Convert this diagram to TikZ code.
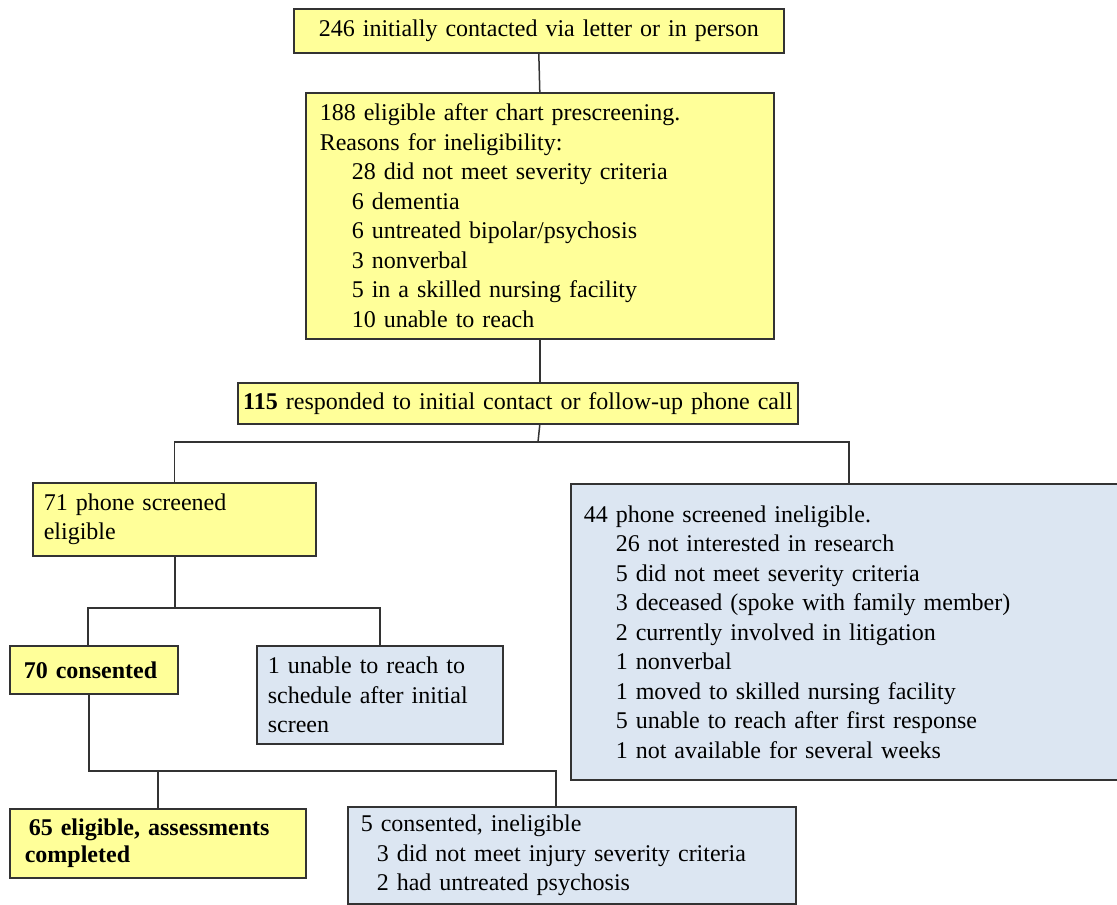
\documentclass[tikz,border=0pt]{standalone}
\usepackage{fontspec}
\setmainfont{Liberation Serif}
\definecolor{yel}{HTML}{FFFF99}
\definecolor{blu}{HTML}{DCE6F2}
\definecolor{edge}{HTML}{333333}
\tikzset{
  box/.style={draw=edge, line width=1.6pt, anchor=north west, inner ysep=0pt,
    font=\fontsize{24}{29.5}\selectfont, align=left},
  ybox/.style={box, fill=yel},
  bbox/.style={box, fill=blu},
  conn/.style={draw=edge, line width=1.5pt}
}
\newcommand{\ind}{\hspace*{32pt}}
\begin{document}
\begin{tikzpicture}[x=1pt,y=-1pt]
\useasboundingbox (0,0) rectangle (1117,905);
\node[ybox, minimum width=490pt, minimum height=44pt, inner xsep=4pt, text width=482pt, align=center] (n246) at (293,8) {246 initially contacted via letter or in person};
\node[ybox, minimum width=468pt, minimum height=246pt, inner xsep=14pt, text width=440pt] (n188) at (305,92) {188 eligible after chart prescreening.\\Reasons for ineligibility:\\\ind 28 did not meet severity criteria\\\ind 6 dementia\\\ind 6 untreated bipolar/psychosis\\\ind 3 nonverbal\\\ind 5 in a skilled nursing facility\\\ind 10 unable to reach};
\node[ybox, minimum width=560pt, minimum height=41pt, inner xsep=3pt, text width=554pt, align=center] (n115) at (237,382) {\textbf{115} responded to initial contact or follow-up phone call};
\node[ybox, minimum width=283pt, minimum height=73pt, inner xsep=11pt, text width=261pt] (n71) at (32,482) {71 phone screened\\eligible};
\node[bbox, minimum width=556pt, minimum height=296pt, inner xsep=13pt, text width=530pt] (n44) at (570,483) {44 phone screened ineligible.\\\ind 26 not interested in research\\\ind 5 did not meet severity criteria\\\ind 3 deceased (spoke with family member)\\\ind 2 currently involved in litigation\\\ind 1 nonverbal\\\ind 1 moved to skilled nursing facility\\\ind 5 unable to reach after first response\\\ind 1 not available for several weeks};
\node[ybox, minimum width=168pt, minimum height=48pt, inner xsep=14pt, text width=140pt] (n70) at (9,645) {\textbf{70 consented}};
\node[bbox, minimum width=246pt, minimum height=98pt, inner xsep=11pt, text width=224pt] (nun) at (256,645) {1 unable to reach to\\schedule after initial\\screen};
\node[ybox, minimum width=296pt, minimum height=69pt, inner xsep=15pt, text width=266pt, font=\fontsize{24}{27}\selectfont\bfseries] (n65) at (9,808) {\,65 eligible, assessments\\completed};
\node[bbox, minimum width=448pt, minimum height=97pt, inner xsep=13pt, text width=422pt] (n5) at (347,806) {5 consented, ineligible\\\hspace*{16pt}3 did not meet injury severity criteria\\\hspace*{16pt}2 had untreated psychosis};
\coordinate (j1) at (538,442);
\coordinate (j2) at (175,608);
\coordinate (j3) at (89,771);
\draw[conn] (n246.south) -- (n188.north);
\draw[conn] (n188.south) -- (n188.south |- n115.north);
\draw[conn] (n188.south |- n115.south) -- (j1);
\draw[conn] (n71.north) |- (j1) -| (n44.north);
\draw[conn] (n71.south -| j2) -- (j2);
\draw[conn] ([xshift=79pt]n70.north west) |- (j2) -| (nun.north);
\draw[conn] ([xshift=80pt]n70.south west) -- (j3) -| ([xshift=-16pt]n5.north);
\draw[conn] (n65.north) -- (n65.north |- j3);
\end{tikzpicture}
\end{document}
